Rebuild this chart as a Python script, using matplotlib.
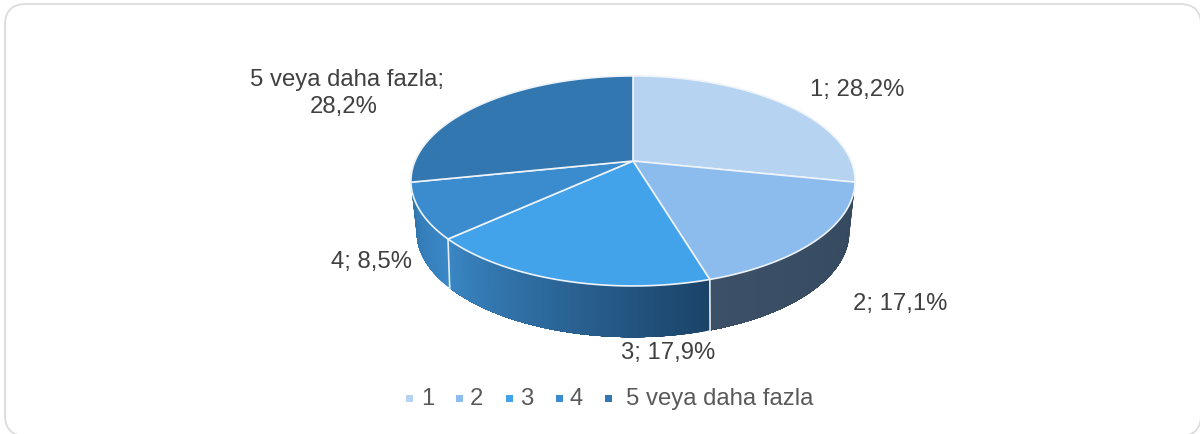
import numpy as np
import matplotlib
matplotlib.use('Agg')
import matplotlib.pyplot as plt
from matplotlib.colors import to_rgb
from matplotlib.patches import FancyBboxPatch, Polygon, Rectangle

categories = ['1', '2', '3', '4', '5 veya daha fazla']
values = [28.2, 17.1, 17.9, 8.5, 28.2]
value_labels = ['28,2%', '17,1%', '17,9%', '8,5%', '28,2%']
top_colors = ['#B7D3F2', '#8CBBEE', '#43A3EA', '#3A8CCF', '#3277B0']
# wall shading per slice, colour at start and end of the slice going clockwise
wall_colors = [('#34495E', '#34495E'), ('#34495E', '#3C5068'),
               ('#1B4368', '#3A86C4'), ('#3A88C8', '#2F74AB'), ('#2F74AB', '#2F74AB')]

plt.rcParams['font.family'] = ['Liberation Sans', 'DejaVu Sans']

fig = plt.figure(figsize=(12, 4.34), dpi=100)
ax = fig.add_axes([0, 0, 1, 1])
ax.set_xlim(0, 1200)
ax.set_ylim(434, 0)
ax.axis('off')


# pie plane seen in perspective, theta runs clockwise from the back of the pie
def top_rim(theta):
    d = 1 + 0.19 * np.cos(theta)
    return 633 + 218 * np.sin(theta) / d, 161 - 101.2 * np.cos(theta) / d


def low_rim(theta):
    d = 1 + 0.22 * np.cos(theta)
    return 633 + 211 * np.sin(theta) / d, 209 - 100 * np.cos(theta) / d


frame = FancyBboxPatch((5, 4), 1196, 432, boxstyle='round,pad=0,rounding_size=21',
                       fc='white', ec='#DCDCDC', lw=1.3, zorder=1)
ax.add_patch(frame)

edges = np.radians(np.concatenate([[0], np.cumsum(values)]) / sum(values) * 360)

# side wall, only the part that faces the viewer
# each strip runs to the slice end and the next one paints over it, so no seams show
for i in range(1, 4):
    steps = np.linspace(edges[i], edges[i + 1], 80)
    c0, c1 = np.array(to_rgb(wall_colors[i][0])), np.array(to_rgb(wall_colors[i][1]))
    for j in range(len(steps) - 1):
        t = steps[j:]
        x1, y1 = top_rim(t)
        x2, y2 = low_rim(t[::-1])
        col = c0 + (c1 - c0) * j / (len(steps) - 2)
        ax.add_patch(Polygon(np.column_stack([np.r_[x1, x2], np.r_[y1, y2]]),
                             fc=col, ec='none', zorder=2))

for i in [2, 3]:
    x1, y1 = top_rim(edges[i])
    x2, y2 = low_rim(edges[i])
    ax.plot([x1, x2], [y1, y2], color='#E4ECF4', lw=1.2, zorder=3)

# top face
for i in range(len(values)):
    t = np.linspace(edges[i], edges[i + 1], 120)
    x, y = top_rim(t)
    pts = np.column_stack([np.r_[633, x], np.r_[161, y]])
    ax.add_patch(Polygon(pts, fc=top_colors[i], ec='#EEF3F9', lw=1.2, zorder=4, joinstyle='round'))

# data labels
label_pos = [(857, 90), (900.5, 304), (668, 353), (371.5, 262)]
for i in range(4):
    ax.text(label_pos[i][0], label_pos[i][1], categories[i] + '; ' + value_labels[i],
            fontsize=17.2, color='#404040', ha='center', va='center', zorder=5)
ax.text(346.5, 80, categories[4] + ';', fontsize=17.2, color='#404040',
        ha='center', va='center', zorder=5)
ax.text(343.5, 107, value_labels[4], fontsize=17.2, color='#404040',
        ha='center', va='center', zorder=5)

# legend
marker_x = [409, 459, 509, 559, 608]
text_x = [421, 470, 520, 569, 626]
for i in range(len(categories)):
    ax.add_patch(Rectangle((marker_x[i] - 3.5, 394.5), 7, 7, fc=top_colors[i], ec='none', zorder=5))
    ax.text(text_x[i], 399, categories[i], fontsize=17.2, color='#595959',
            ha='left', va='center', zorder=5)

fig.savefig('out.png', dpi=100, facecolor='white')
